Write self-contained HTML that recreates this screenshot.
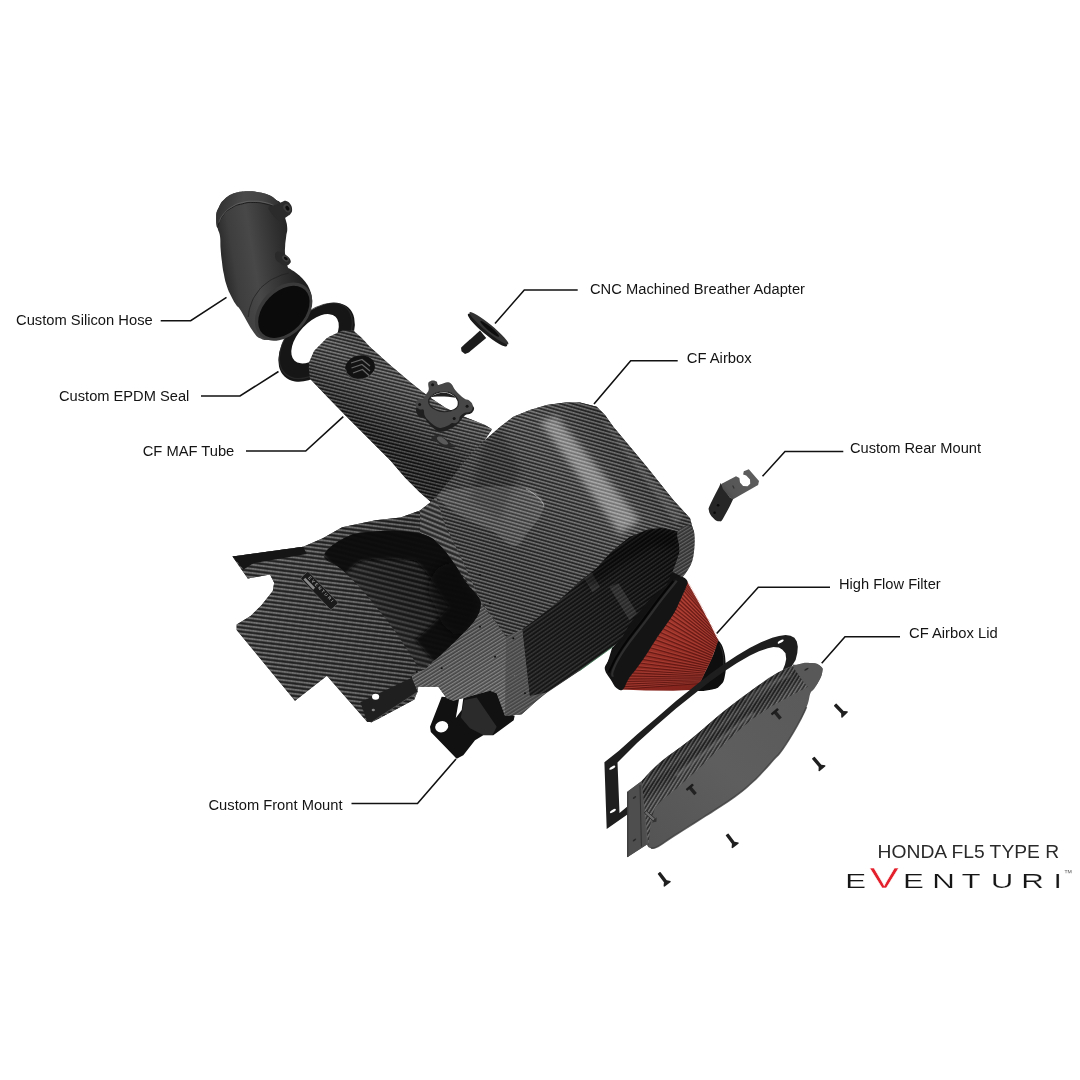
<!DOCTYPE html>
<html lang="en"><head><meta charset="utf-8"><title>Eventuri Honda FL5 Type R Intake - Exploded View</title>
<style>
html,body{margin:0;padding:0;background:#fff;}
body{width:1080px;height:1080px;overflow:hidden;position:relative;font-family:"Liberation Sans",sans-serif;}
svg{position:absolute;left:0;top:0;display:block;}
text{font-family:"Liberation Sans",sans-serif;}
#labels{opacity:0.999;will-change:opacity;}
</style></head><body>
<svg width="1080" height="1080" viewBox="0 0 1080 1080">
<defs>
<pattern id="cfa" width="2.4" height="3.3" patternUnits="userSpaceOnUse" patternTransform="rotate(14)"><rect width="2.4" height="1.39" fill="#fff" opacity="0.17"/><rect x="0" width="1.20" height="1.39" fill="#fff" opacity="0.102"/><rect y="1.39" width="2.4" height="0.40" fill="#000" opacity="0.261"/><rect y="1.78" width="2.4" height="1.19" fill="#000" opacity="0.58"/><rect y="2.97" width="2.4" height="0.33" fill="#000" opacity="0.261"/></pattern>
<pattern id="cfb" width="2.4" height="3.4" patternUnits="userSpaceOnUse" patternTransform="rotate(16)"><rect width="2.4" height="1.43" fill="#fff" opacity="0.17"/><rect x="0" width="1.20" height="1.43" fill="#fff" opacity="0.102"/><rect y="1.43" width="2.4" height="0.41" fill="#000" opacity="0.261"/><rect y="1.84" width="2.4" height="1.22" fill="#000" opacity="0.58"/><rect y="3.06" width="2.4" height="0.34" fill="#000" opacity="0.261"/></pattern>
<pattern id="cfc" width="2.4" height="3.0" patternUnits="userSpaceOnUse" patternTransform="rotate(-32)"><rect width="2.4" height="1.26" fill="#fff" opacity="0.14"/><rect x="0" width="1.20" height="1.26" fill="#fff" opacity="0.084"/><rect y="1.26" width="2.4" height="0.36" fill="#000" opacity="0.225"/><rect y="1.62" width="2.4" height="1.08" fill="#000" opacity="0.5"/><rect y="2.70" width="2.4" height="0.30" fill="#000" opacity="0.225"/></pattern>
<pattern id="cfd" width="2.6" height="4.1" patternUnits="userSpaceOnUse" patternTransform="rotate(7)"><rect width="2.6" height="1.72" fill="#fff" opacity="0.16"/><rect x="0" width="1.30" height="1.72" fill="#fff" opacity="0.096"/><rect y="1.72" width="2.6" height="0.49" fill="#000" opacity="0.252"/><rect y="2.21" width="2.6" height="1.48" fill="#000" opacity="0.56"/><rect y="3.69" width="2.6" height="0.41" fill="#000" opacity="0.252"/></pattern>
<pattern id="cfh" width="2.8" height="5.0" patternUnits="userSpaceOnUse" patternTransform="rotate(14)"><rect width="2.8" height="2.10" fill="#fff" opacity="0.07"/><rect x="0" width="1.40" height="2.10" fill="#fff" opacity="0.042"/><rect y="2.10" width="2.8" height="0.60" fill="#000" opacity="0.225"/><rect y="2.70" width="2.8" height="1.80" fill="#000" opacity="0.5"/><rect y="4.50" width="2.8" height="0.50" fill="#000" opacity="0.225"/></pattern>
<pattern id="cfg" width="2.8" height="4.6" patternUnits="userSpaceOnUse" patternTransform="rotate(22)"><rect width="2.8" height="1.93" fill="#fff" opacity="0.15"/><rect x="0" width="1.40" height="1.93" fill="#fff" opacity="0.090"/><rect y="1.93" width="2.8" height="0.55" fill="#000" opacity="0.243"/><rect y="2.48" width="2.8" height="1.66" fill="#000" opacity="0.54"/><rect y="4.14" width="2.8" height="0.46" fill="#000" opacity="0.243"/></pattern>
<pattern id="cfe" width="2.4" height="3.4" patternUnits="userSpaceOnUse" patternTransform="rotate(-35)"><rect width="2.4" height="1.43" fill="#fff" opacity="0.09"/><rect x="0" width="1.20" height="1.43" fill="#fff" opacity="0.054"/><rect y="1.43" width="2.4" height="0.41" fill="#000" opacity="0.225"/><rect y="1.84" width="2.4" height="1.22" fill="#000" opacity="0.5"/><rect y="3.06" width="2.4" height="0.34" fill="#000" opacity="0.225"/></pattern>
<pattern id="cff" width="2.4" height="3.2" patternUnits="userSpaceOnUse" patternTransform="rotate(-58)"><rect width="2.4" height="1.34" fill="#fff" opacity="0.15"/><rect x="0" width="1.20" height="1.34" fill="#fff" opacity="0.090"/><rect y="1.34" width="2.4" height="0.38" fill="#000" opacity="0.207"/><rect y="1.73" width="2.4" height="1.15" fill="#000" opacity="0.46"/><rect y="2.88" width="2.4" height="0.32" fill="#000" opacity="0.207"/></pattern>
<linearGradient id="gbox" gradientUnits="userSpaceOnUse" x1="300" y1="350" x2="700" y2="700"><stop offset="0" stop-color="#505050"/><stop offset="0.5" stop-color="#4a4a4a"/><stop offset="1" stop-color="#444"/></linearGradient>
<linearGradient id="gtube" gradientUnits="userSpaceOnUse" x1="382" y1="348" x2="345" y2="417"><stop offset="0" stop-color="#444"/><stop offset="0.25" stop-color="#5c5c5c"/><stop offset="0.55" stop-color="#4c4c4c"/><stop offset="0.85" stop-color="#323232"/><stop offset="1" stop-color="#232323"/></linearGradient>
<linearGradient id="gtop" gradientUnits="userSpaceOnUse" x1="500" y1="560" x2="650" y2="430"><stop offset="0" stop-color="#464646"/><stop offset="0.3" stop-color="#4e4e4e"/><stop offset="0.5" stop-color="#565656"/><stop offset="0.62" stop-color="#5c5c5c"/><stop offset="0.8" stop-color="#484848"/><stop offset="1" stop-color="#3e3e3e"/></linearGradient>
<clipPath id="cliptop"><path d="M484.0,441.0 L500.0,427.0 L513.3,416.7 L530.0,410.0 L546.7,405.0 L565.0,402.5 L580.0,402.5 L596.7,406.7 L605.0,415.0 L613.3,426.7 L646.7,466.7 L673.3,500.0 L690.0,518.3 L694.0,533.3 L690.0,556.7 L680.0,576.7 L672.2,574.1 L679.6,551.9 L677.8,531.5 L663.0,527.8 L648.1,529.6 L629.6,537.0 L611.1,551.9 L596.3,568.5 L579.6,581.5 L555.6,603.7 L537.0,618.5 L522.2,629.6 L506.0,637.0 L480.0,600.0 L462.0,560.0 L445.0,525.0 L436.0,497.0 L452.0,478.0 L470.0,455.0Z"/></clipPath>
<filter id="blur3" x="-30%" y="-30%" width="160%" height="160%"><feGaussianBlur stdDeviation="3"/></filter>
<filter id="blur2" x="-30%" y="-30%" width="160%" height="160%"><feGaussianBlur stdDeviation="1.6"/></filter>
<linearGradient id="gfront" gradientUnits="userSpaceOnUse" x1="430" y1="520" x2="520" y2="700"><stop offset="0" stop-color="#4e4e4e"/><stop offset="0.5" stop-color="#5e5e5e"/><stop offset="1" stop-color="#787878"/></linearGradient>
<linearGradient id="gscoop" gradientUnits="userSpaceOnUse" x1="250" y1="600" x2="430" y2="620"><stop offset="0" stop-color="#4a4a4a"/><stop offset="0.5" stop-color="#444"/><stop offset="1" stop-color="#3a3a3a"/></linearGradient>
<linearGradient id="ginter" gradientUnits="userSpaceOnUse" x1="465" y1="565" x2="372" y2="645"><stop offset="0" stop-color="#181818"/><stop offset="0.55" stop-color="#262626"/><stop offset="0.82" stop-color="#343434"/><stop offset="1" stop-color="#424242"/></linearGradient>
<clipPath id="clipinter"><path d="M324.1,555.6 C325.2,549.3 336.3,541.9 346.3,537.0 C356.3,532.2 362.6,532.6 374.1,531.5 C385.6,530.4 393.3,530.7 403.7,531.5 C414.1,532.2 418.5,532.2 425.9,535.2 C433.3,538.1 435.2,540.7 440.7,546.3 C446.3,551.9 448.5,555.6 453.7,563.0 C458.9,570.4 461.9,576.7 466.7,583.3 C471.5,590.0 475.0,591.9 477.8,596.3 C480.6,600.7 480.9,601.1 480.6,605.6 C480.2,610.0 479.4,613.0 475.9,618.5 C472.4,624.1 468.5,627.4 463.0,633.3 C457.4,639.3 454.1,642.6 448.1,648.1 C442.2,653.7 438.9,657.2 433.3,661.1 C427.8,665.0 424.8,668.7 420.4,667.6 C415.9,666.5 415.9,662.4 411.1,655.6 C406.3,648.7 402.6,642.2 396.3,633.3 C390.0,624.4 386.7,620.0 379.6,611.1 C372.6,602.2 368.9,597.4 361.1,588.9 C353.3,580.4 348.1,575.2 340.7,568.5 C333.3,561.9 323.0,561.9 324.1,555.6Z"/></clipPath>
<linearGradient id="gli" gradientUnits="userSpaceOnUse" x1="530" y1="690" x2="670" y2="540"><stop offset="0" stop-color="#222"/><stop offset="0.5" stop-color="#1a1a1a"/><stop offset="1" stop-color="#0f0f0f"/></linearGradient>
<clipPath id="clipli"><path d="M522.2,629.6 L537.0,618.5 L555.6,603.7 L579.6,581.5 L596.3,568.5 L611.1,551.9 L629.6,537.0 L648.1,529.6 L663.0,527.8 L677.8,531.5 L679.6,551.9 L672.2,574.1 L666.7,587.0 L648.1,603.7 L629.6,625.9 L622.0,640.0 L613.0,646.3 L579.6,670.4 L546.3,692.6 L529.6,696.3Z"/></clipPath>
<linearGradient id="ghose" gradientUnits="userSpaceOnUse" x1="215" y1="262" x2="300" y2="248"><stop offset="0" stop-color="#202020"/><stop offset="0.22" stop-color="#3e3e3e"/><stop offset="0.45" stop-color="#484848"/><stop offset="0.75" stop-color="#303030"/><stop offset="1" stop-color="#1e1e1e"/></linearGradient>
<linearGradient id="gcollar" gradientUnits="userSpaceOnUse" x1="216" y1="200" x2="280" y2="215"><stop offset="0" stop-color="#2e2e2e"/><stop offset="0.4" stop-color="#4a4a4a"/><stop offset="0.7" stop-color="#444"/><stop offset="1" stop-color="#2c2c2c"/></linearGradient>
<linearGradient id="grm" gradientUnits="userSpaceOnUse" x1="720" y1="500" x2="755" y2="470"><stop offset="0" stop-color="#3e3e3e"/><stop offset="0.3" stop-color="#555"/><stop offset="1" stop-color="#5e5e5e"/></linearGradient>
<linearGradient id="gred" gradientUnits="userSpaceOnUse" x1="665" y1="610" x2="700" y2="700"><stop offset="0" stop-color="#a8392f"/><stop offset="0.45" stop-color="#962e25"/><stop offset="1" stop-color="#7a1f19"/></linearGradient>
<clipPath id="clipred"><path d="M685.8,579.4 L698.3,601.7 L709.4,622.5 L718.1,640.6 L715.3,648.9 L711.1,660.0 L705.6,671.1 L698.6,685.7 L695.6,689.7 L673.3,690.8 L645.6,690.6 L621.2,689.4 L627.5,679.4 L635.8,668.3 L645.6,654.4 L655.3,639.2 L665.0,625.3 L673.3,612.8 L678.9,601.7 L684.4,590.6Z"/></clipPath>
<linearGradient id="glid" gradientUnits="userSpaceOnUse" x1="650" y1="850" x2="800" y2="690"><stop offset="0" stop-color="#545454"/><stop offset="0.5" stop-color="#5e5e5e"/><stop offset="1" stop-color="#5a5a5a"/></linearGradient>
<linearGradient id="gslope" gradientUnits="userSpaceOnUse" x1="700" y1="725" x2="718" y2="748"><stop offset="0" stop-color="#1c1c1c"/><stop offset="0.3" stop-color="#333"/><stop offset="0.45" stop-color="#4a4a4a"/><stop offset="0.6" stop-color="#303030"/><stop offset="0.85" stop-color="#3e3e3e"/><stop offset="1" stop-color="#525252"/></linearGradient>
<clipPath id="clipslope"><path d="M641.7,780.9 L660.0,762.4 L691.5,738.7 L723.0,712.0 L754.5,688.3 L778.1,672.6 L793.0,666.0 L801.7,678.9 L808.0,686.8 L796.0,693.0 L772.0,706.0 L753.0,718.5 L737.4,731.5 L719.6,748.5 L697.4,770.0 L676.0,789.0 L662.0,800.0 L655.0,808.0 L651.0,820.0 L648.4,845.9Z"/></clipPath>
<filter id="blur1" x="-30%" y="-30%" width="160%" height="160%"><feGaussianBlur stdDeviation="0.9"/></filter>
</defs>
<rect width="1080" height="1080" fill="#fff"/>
<polyline points="160.7,320.7 190.7,320.7 226.5,297.3" stroke="#111" stroke-width="1.6" fill="none" stroke-linejoin="miter"/>
<polyline points="201.0,396.0 240.0,396.0 278.5,371.5" stroke="#111" stroke-width="1.6" fill="none" stroke-linejoin="miter"/>
<polyline points="246.0,451.0 305.7,451.0 343.3,416.7" stroke="#111" stroke-width="1.6" fill="none" stroke-linejoin="miter"/>
<polyline points="577.7,290.0 524.3,290.0 495.0,323.5" stroke="#111" stroke-width="1.6" fill="none" stroke-linejoin="miter"/>
<polyline points="677.7,360.7 630.7,360.7 594.0,404.0" stroke="#111" stroke-width="1.6" fill="none" stroke-linejoin="miter"/>
<polyline points="843.3,451.5 785.0,451.5 762.5,476.3" stroke="#111" stroke-width="1.6" fill="none" stroke-linejoin="miter"/>
<polyline points="830.0,587.3 758.3,587.3 716.7,633.5" stroke="#111" stroke-width="1.6" fill="none" stroke-linejoin="miter"/>
<polyline points="900.0,636.7 845.0,636.7 821.7,663.3" stroke="#111" stroke-width="1.6" fill="none" stroke-linejoin="miter"/>
<polyline points="351.5,803.5 417.5,803.5 456.0,759.0" stroke="#111" stroke-width="1.6" fill="none" stroke-linejoin="miter"/>
<g id="labels">
<text x="16.0" y="325.2" font-size="14.7" fill="#141414" text-anchor="start" textLength="136.7" lengthAdjust="spacingAndGlyphs" >Custom Silicon Hose</text>
<text x="59.0" y="400.7" font-size="14.7" fill="#141414" text-anchor="start" textLength="130.3" lengthAdjust="spacingAndGlyphs" >Custom EPDM Seal</text>
<text x="142.7" y="455.7" font-size="14.7" fill="#141414" text-anchor="start" textLength="91.6" lengthAdjust="spacingAndGlyphs" >CF MAF Tube</text>
<text x="590.0" y="294.0" font-size="14.7" fill="#141414" text-anchor="start" textLength="215.0" lengthAdjust="spacingAndGlyphs" >CNC Machined Breather Adapter</text>
<text x="686.7" y="363.3" font-size="14.7" fill="#141414" text-anchor="start" textLength="65.0" lengthAdjust="spacingAndGlyphs" >CF Airbox</text>
<text x="850.0" y="453.3" font-size="14.7" fill="#141414" text-anchor="start" textLength="131.0" lengthAdjust="spacingAndGlyphs" >Custom Rear Mount</text>
<text x="839.0" y="589.0" font-size="14.7" fill="#141414" text-anchor="start" textLength="101.7" lengthAdjust="spacingAndGlyphs" >High Flow Filter</text>
<text x="909.0" y="638.3" font-size="14.7" fill="#141414" text-anchor="start" textLength="88.7" lengthAdjust="spacingAndGlyphs" >CF Airbox Lid</text>
<text x="208.5" y="810.0" font-size="14.7" fill="#141414" text-anchor="start" textLength="134.0" lengthAdjust="spacingAndGlyphs" >Custom Front Mount</text>
<text x="877.6" y="858.3" font-size="19.2" fill="#2a2a2a" text-anchor="start" textLength="181.6" lengthAdjust="spacingAndGlyphs" >HONDA FL5 TYPE R</text>
<g transform="translate(0,887.7) scale(1.52,1)"><text id="logo" x="556.05 572.11 594.08 613.26 632.63 651.81 671.91 692.93" y="0" font-size="20.6" fill="#161616" stroke="#fff" stroke-width="0.2" paint-order="fill stroke">E<tspan fill="#e3202b" font-size="29" stroke-width="0.4">V</tspan>ENTURI</text></g>
<text x="1063.8" y="875.6" font-size="8.5" fill="#6a6a6a">™</text>
</g>
<path d="M441.7,696.7 L430.0,726.7 L430.8,732.0 L456.7,758.7 L463.3,755.3 L475.0,740.3 L483.3,735.3 L493.3,735.3 L513.7,720.3 L514.7,715.8 L506.7,713.3 L498.3,691.7 L483.3,690.0 L463.3,698.3 L461.7,710.0 L455.8,718.0 L459.2,698.3Z" fill="#111" />
<path d="M464.2,700.0 L476.7,697.5 L496.7,726.7 L492.5,735.0 L483.3,735.0 L470.0,728.3 L460.8,717.5Z" fill="#2b2b2b" />
<ellipse cx="441.7" cy="726.7" rx="6.6" ry="5.6" fill="#fff" transform="rotate(-20 441.7 726.7)"/>
<g transform="rotate(-47 316.6 342.2)">
<path d="M316.6,342.2 m-47,0 a47,28.5 0 1,0 94,0 a47,28.5 0 1,0 -94,0 Z M318.1,338.7 m-30,0 a30,16.5 0 1,1 60,0 a30,16.5 0 1,1 -60,0 Z" fill="#161616" fill-rule="evenodd"/>
<ellipse cx="317.1" cy="340.7" rx="45" ry="27" fill="none" stroke="#2b2b2b" stroke-width="1.2" opacity="0.8"/>
</g>
<path d="M370.0,347.0 L390.0,365.0 L410.0,382.0 L420.0,390.0 L430.0,397.5 L445.0,407.5 L460.0,415.0 L472.5,420.0 L485.0,425.0 L492.0,429.2 L484.0,441.0 L500.0,427.0 L513.3,416.7 L530.0,410.0 L546.7,405.0 L565.0,402.5 L580.0,402.5 L596.7,406.7 L605.0,415.0 L613.3,426.7 L646.7,466.7 L673.3,500.0 L690.0,518.3 L694.0,533.3 L690.0,556.7 L680.0,576.7 L650.0,612.0 L630.0,634.0 L613.0,646.5 L580.0,670.5 L546.5,693.0 L536.7,700.8 L521.7,714.2 L505.0,715.8 L496.7,693.3 L490.0,690.8 L453.3,700.8 L446.7,698.3 L438.3,686.7 L418.3,686.7 L416.7,693.3 L414.4,699.4 L375.6,720.3 L367.2,721.7 L326.9,675.8 L295.0,700.8 L236.7,630.0 L236.7,624.4 L250.6,616.1 L261.7,605.0 L272.8,591.1 L274.2,582.8 L270.0,574.4 L247.8,578.6 L232.5,556.4 L303.3,546.7 L322.8,538.3 L342.2,527.2 L375.6,520.3 L400.6,517.5 L420.0,510.6 L431.0,502.0 L420.0,492.5 L405.0,477.5 L390.0,460.0 L370.0,440.0 L345.0,415.0 L327.5,397.0 L310.0,378.8Z" fill="url(#gbox)" />
<path d="M308.8,368.0 C309.6,364.5 307.5,365.2 311.2,357.5 C314.9,349.8 312.1,352.8 320.0,345.0 C327.9,337.2 325.0,338.7 335.0,334.0 C345.0,329.3 342.7,330.9 350.0,330.8 C357.3,330.7 350.3,328.4 357.0,333.8 C363.7,339.2 365.7,342.6 370.0,347.0 L390.0,365.0 L410.0,382.0 L420.0,390.0 L430.0,397.5 L445.0,407.5 L460.0,415.0 L472.5,420.0 L485.0,425.0 L492.0,429.2 L484.0,441.0 L470.0,455.0 L452.0,478.0 L436.0,497.0 L431.0,502.0 L420.0,492.5 L405.0,477.5 L390.0,460.0 L370.0,440.0 L345.0,415.0 L327.5,397.0 L310.0,378.8Z" fill="url(#gtube)" />
<path d="M308.8,368.0 C309.6,364.5 307.5,365.2 311.2,357.5 C314.9,349.8 312.1,352.8 320.0,345.0 C327.9,337.2 325.0,338.7 335.0,334.0 C345.0,329.3 342.7,330.9 350.0,330.8 C357.3,330.7 350.3,328.4 357.0,333.8 C363.7,339.2 365.7,342.6 370.0,347.0 L390.0,365.0 L410.0,382.0 L420.0,390.0 L430.0,397.5 L445.0,407.5 L460.0,415.0 L472.5,420.0 L485.0,425.0 L492.0,429.2 L484.0,441.0 L470.0,455.0 L452.0,478.0 L436.0,497.0 L431.0,502.0 L420.0,492.5 L405.0,477.5 L390.0,460.0 L370.0,440.0 L345.0,415.0 L327.5,397.0 L310.0,378.8Z" fill="url(#cfa)" opacity="1.00" />
<ellipse cx="360" cy="367.5" rx="15" ry="12" fill="#121212" transform="rotate(-12 360 367.5)"/>
<path d="M351,363 L362,359.5 L370,366 M351.5,368 L362,364.5 L370,371 M353,373 L362.5,369.5 L369,375.5" stroke="#7a7a7a" stroke-width="1.3" fill="none" opacity="0.8"/>
<path d="M345.5,369 A15,12 -12 0 0 374,371" stroke="#8a8a8a" stroke-width="1" fill="none" opacity="0.5"/>
<path d="M484.0,441.0 L500.0,427.0 L513.3,416.7 L530.0,410.0 L546.7,405.0 L565.0,402.5 L580.0,402.5 L596.7,406.7 L605.0,415.0 L613.3,426.7 L646.7,466.7 L673.3,500.0 L690.0,518.3 L694.0,533.3 L690.0,556.7 L680.0,576.7 L672.2,574.1 L679.6,551.9 L677.8,531.5 L663.0,527.8 L648.1,529.6 L629.6,537.0 L611.1,551.9 L596.3,568.5 L579.6,581.5 L555.6,603.7 L537.0,618.5 L522.2,629.6 L506.0,637.0 L480.0,600.0 L462.0,560.0 L445.0,525.0 L436.0,497.0 L452.0,478.0 L470.0,455.0Z" fill="url(#gtop)" />
<path d="M484.0,441.0 L500.0,427.0 L513.3,416.7 L530.0,410.0 L546.7,405.0 L565.0,402.5 L580.0,402.5 L596.7,406.7 L605.0,415.0 L613.3,426.7 L646.7,466.7 L673.3,500.0 L690.0,518.3 L694.0,533.3 L690.0,556.7 L680.0,576.7 L672.2,574.1 L679.6,551.9 L677.8,531.5 L663.0,527.8 L648.1,529.6 L629.6,537.0 L611.1,551.9 L596.3,568.5 L579.6,581.5 L555.6,603.7 L537.0,618.5 L522.2,629.6 L506.0,637.0 L480.0,600.0 L462.0,560.0 L445.0,525.0 L436.0,497.0 L452.0,478.0 L470.0,455.0Z" fill="url(#cfb)" opacity="1.00" />
<g clip-path="url(#cliptop)">
<path d="M540,422 L556,416 L640,520 L620,534 Z" fill="#fff" opacity="0.34" filter="url(#blur3)"/>
<path d="M600,418 L608,424 L684,516 L676,524 Z" fill="#fff" opacity="0.10" filter="url(#blur2)"/>
<path d="M484,441 L500,427 L520,470 L500,520 L470,500 Z" fill="#000" opacity="0.18" filter="url(#blur3)"/>
</g>
<path d="M431.0,502.0 L436.0,497.0 L445.0,525.0 L462.0,560.0 L480.0,600.0 L506.0,637.0 L522.2,629.6 L529.6,696.3 L521.7,714.2 L505.0,715.8 L496.7,693.3 L490.0,690.8 L453.3,700.8 L446.7,698.3 L438.3,686.7 L418.3,686.7 L416.7,693.3 L414.4,699.4 L411.7,674.4 L425.6,668.9 L442.2,652.2 L456.1,635.6 L470.0,618.9 L478.3,599.4 L464.4,577.2 L442.2,549.4 L420.0,532.8 L420.0,510.6Z" fill="url(#gfront)" />
<path d="M431.0,502.0 L436.0,497.0 L445.0,525.0 L462.0,560.0 L480.0,600.0 L506.0,637.0 L522.2,629.6 L529.6,696.3 L521.7,714.2 L505.0,715.8 L496.7,693.3 L490.0,690.8 L453.3,700.8 L446.7,698.3 L438.3,686.7 L418.3,686.7 L416.7,693.3 L414.4,699.4 L411.7,674.4 L425.6,668.9 L442.2,652.2 L456.1,635.6 L470.0,618.9 L478.3,599.4 L464.4,577.2 L442.2,549.4 L420.0,532.8 L420.0,510.6Z" fill="url(#cfc)" opacity="0.90" />
<path d="M420.0,510.6 L431.0,502.0 L436.0,497.0 L445.0,525.0 L462.0,560.0 L480.0,600.0 L500.0,628.0 L478.3,599.4 L464.4,577.2 L442.2,549.4 L420.0,532.8Z" fill="#505050" />
<path d="M420.0,510.6 L431.0,502.0 L436.0,497.0 L445.0,525.0 L462.0,560.0 L480.0,600.0 L500.0,628.0 L478.3,599.4 L464.4,577.2 L442.2,549.4 L420.0,532.8Z" fill="url(#cfg)" opacity="1.00" />
<path d="M232.5,556.4 L303.3,546.7 L322.8,538.3 L342.2,527.2 L375.6,520.3 L400.6,517.5 L420.0,510.6 L420.0,532.8 L442.2,549.4 L464.4,577.2 L478.3,599.4 L470.0,618.9 L456.1,635.6 L442.2,652.2 L425.6,668.9 L411.7,674.4 L414.4,699.4 L375.6,720.3 L367.2,721.7 L326.9,675.8 L295.0,700.8 L236.7,630.0 L236.7,624.4 L250.6,616.1 L261.7,605.0 L272.8,591.1 L274.2,582.8 L270.0,574.4 L247.8,578.6Z" fill="url(#gscoop)" />
<path d="M232.5,556.4 L303.3,546.7 L322.8,538.3 L342.2,527.2 L375.6,520.3 L400.6,517.5 L420.0,510.6 L420.0,532.8 L442.2,549.4 L464.4,577.2 L478.3,599.4 L470.0,618.9 L456.1,635.6 L442.2,652.2 L425.6,668.9 L411.7,674.4 L414.4,699.4 L375.6,720.3 L367.2,721.7 L326.9,675.8 L295.0,700.8 L236.7,630.0 L236.7,624.4 L250.6,616.1 L261.7,605.0 L272.8,591.1 L274.2,582.8 L270.0,574.4 L247.8,578.6Z" fill="url(#cfd)" opacity="1.00" />
<path d="M324.1,555.6 C325.2,549.3 336.3,541.9 346.3,537.0 C356.3,532.2 362.6,532.6 374.1,531.5 C385.6,530.4 393.3,530.7 403.7,531.5 C414.1,532.2 418.5,532.2 425.9,535.2 C433.3,538.1 435.2,540.7 440.7,546.3 C446.3,551.9 448.5,555.6 453.7,563.0 C458.9,570.4 461.9,576.7 466.7,583.3 C471.5,590.0 475.0,591.9 477.8,596.3 C480.6,600.7 480.9,601.1 480.6,605.6 C480.2,610.0 479.4,613.0 475.9,618.5 C472.4,624.1 468.5,627.4 463.0,633.3 C457.4,639.3 454.1,642.6 448.1,648.1 C442.2,653.7 438.9,657.2 433.3,661.1 C427.8,665.0 424.8,668.7 420.4,667.6 C415.9,666.5 415.9,662.4 411.1,655.6 C406.3,648.7 402.6,642.2 396.3,633.3 C390.0,624.4 386.7,620.0 379.6,611.1 C372.6,602.2 368.9,597.4 361.1,588.9 C353.3,580.4 348.1,575.2 340.7,568.5 C333.3,561.9 323.0,561.9 324.1,555.6Z" fill="url(#ginter)" />
<path d="M324.1,555.6 C325.2,549.3 336.3,541.9 346.3,537.0 C356.3,532.2 362.6,532.6 374.1,531.5 C385.6,530.4 393.3,530.7 403.7,531.5 C414.1,532.2 418.5,532.2 425.9,535.2 C433.3,538.1 435.2,540.7 440.7,546.3 C446.3,551.9 448.5,555.6 453.7,563.0 C458.9,570.4 461.9,576.7 466.7,583.3 C471.5,590.0 475.0,591.9 477.8,596.3 C480.6,600.7 480.9,601.1 480.6,605.6 C480.2,610.0 479.4,613.0 475.9,618.5 C472.4,624.1 468.5,627.4 463.0,633.3 C457.4,639.3 454.1,642.6 448.1,648.1 C442.2,653.7 438.9,657.2 433.3,661.1 C427.8,665.0 424.8,668.7 420.4,667.6 C415.9,666.5 415.9,662.4 411.1,655.6 C406.3,648.7 402.6,642.2 396.3,633.3 C390.0,624.4 386.7,620.0 379.6,611.1 C372.6,602.2 368.9,597.4 361.1,588.9 C353.3,580.4 348.1,575.2 340.7,568.5 C333.3,561.9 323.0,561.9 324.1,555.6Z" fill="url(#cfh)" opacity="0.95" />
<g clip-path="url(#clipinter)">
<path d="M324.1,555.6 C329.3,551.2 334.6,542.7 346.3,537.0 C358.0,531.4 360.7,532.8 374.1,531.5 C387.5,530.2 391.6,530.6 403.7,531.5 C415.8,532.3 417.3,531.7 425.9,535.2 C434.6,538.6 434.3,539.8 440.7,546.3 C447.2,552.8 447.7,554.3 453.7,563.0 C459.8,571.6 461.0,575.6 466.7,583.3 C472.3,591.1 474.5,591.1 477.8,596.3 C481.0,601.5 481.0,600.4 480.6,605.6 C480.1,610.7 480.0,612.0 475.9,618.5 C471.8,625.0 469.4,626.4 463.0,633.3 C456.5,640.2 455.1,641.7 448.1,648.1 C441.2,654.6 436.8,658.1 433.3,661.1" stroke="#0a0a0a" stroke-width="56" fill="none" opacity="0.92" stroke-linejoin="round" filter="url(#blur2)"/>
<path d="M429.6,581.5 C434.1,568.6 443.8,562.5 453.7,563.0 C463.6,563.5 460.2,574.4 466.7,583.3 C473.1,592.2 474.1,590.4 477.8,596.3 C481.5,602.2 481.0,599.6 480.6,605.6 C480.1,611.5 480.6,611.1 475.9,618.5 C471.2,625.9 470.4,630.4 463.0,633.3 C455.6,636.3 455.1,635.6 448.1,629.6 C441.2,623.7 442.0,624.0 437.0,611.1 C432.1,598.3 425.2,594.3 429.6,581.5Z" fill="#0a0a0a" opacity="0.6" filter="url(#blur3)"/>
</g>
<path d="M232.5,556.4 L303.3,546.7 L306.7,553.9 L253.3,563.3 L243.6,569.4Z" fill="#151515" />
<path d="M360.3,702.2 L411.7,677.8 L417.8,691.7 L371.4,722.2 L367.2,721.7Z" fill="#1f1f1f" />
<path d="M371.4,722.2 L417.8,691.7" stroke="#4a4a4a" stroke-width="1" fill="none"/>
<path d="M522.2,629.6 L537.0,618.5 L555.6,603.7 L579.6,581.5 L596.3,568.5 L611.1,551.9 L629.6,537.0 L648.1,529.6 L663.0,527.8 L677.8,531.5 L679.6,551.9 L672.2,574.1 L666.7,587.0 L648.1,603.7 L629.6,625.9 L622.0,640.0 L613.0,646.3 L579.6,670.4 L546.3,692.6 L529.6,696.3Z" fill="url(#gli)" />
<path d="M522.2,629.6 L537.0,618.5 L555.6,603.7 L579.6,581.5 L596.3,568.5 L611.1,551.9 L629.6,537.0 L648.1,529.6 L663.0,527.8 L677.8,531.5 L679.6,551.9 L672.2,574.1 L666.7,587.0 L648.1,603.7 L629.6,625.9 L622.0,640.0 L613.0,646.3 L579.6,670.4 L546.3,692.6 L529.6,696.3Z" fill="url(#cfe)" opacity="0.80" />
<g clip-path="url(#clipli)">
<path d="M581.5,574.1 L590.7,570.4 L600.0,587.0 L592.6,592.6Z" fill="#fff" opacity="0.10"/>
<path d="M609.3,587.0 L618.5,583.3 L637.0,613.0 L629.6,620.4Z" fill="#fff" opacity="0.10"/>
<path d="M677.8,531.5 L648.1,529.6 L611.1,551.9 L579.6,581.5 L592.6,587.0 L620.4,564.8 L651.9,546.3 L675.9,548.1Z" fill="#000" opacity="0.35" filter="url(#blur3)"/>
</g>
<path d="M579.6,670.7 L613.0,646.7" stroke="#3f7a55" stroke-width="1" fill="none" opacity="0.8"/>
<path d="M677.8,531.5 C680.4,526.7 689.4,523.0 692.6,527.8 C695.7,532.6 695.0,546.3 693.5,555.6 C692.0,564.8 688.3,569.6 685.2,574.1 C682.0,578.5 680.4,577.8 677.8,577.8 C675.2,577.8 671.9,579.3 672.2,574.1 C672.6,568.9 678.5,560.4 679.6,551.9 C680.7,543.3 675.2,536.3 677.8,531.5Z" fill="#484848" />
<path d="M677.8,531.5 C680.4,526.7 689.4,523.0 692.6,527.8 C695.7,532.6 695.0,546.3 693.5,555.6 C692.0,564.8 688.3,569.6 685.2,574.1 C682.0,578.5 680.4,577.8 677.8,577.8 C675.2,577.8 671.9,579.3 672.2,574.1 C672.6,568.9 678.5,560.4 679.6,551.9 C680.7,543.3 675.2,536.3 677.8,531.5Z" fill="url(#cfc)" opacity="0.80" />
<path d="M506.0,637.0 L522.2,629.6 L529.6,696.3 L546.3,692.6 L536.7,700.8 L521.7,714.2 L505.0,715.8Z" fill="#585858" />
<path d="M506.0,637.0 L522.2,629.6 L529.6,696.3 L546.3,692.6 L536.7,700.8 L521.7,714.2 L505.0,715.8Z" fill="url(#cfc)" opacity="0.60" />
<ellipse cx="375.6" cy="696.7" rx="3.6" ry="3" fill="#fff"/>
<ellipse cx="373.3" cy="710.0" rx="1.6" ry="1.3" fill="#888"/>
<g transform="translate(319.4,590.6) rotate(46)"><rect x="-22" y="-5.2" width="44" height="10.4" rx="1.5" fill="#1a1a1a" stroke="#6a6a6a" stroke-width="0.6"/><text x="0" y="-0.6" font-size="4.2" fill="#d0d0d0" text-anchor="middle" textLength="34" lengthAdjust="spacing">EVENTURI</text><rect x="-19" y="1.2" width="14" height="2.6" fill="#8a8a8a"/></g>
<path d="M440.0,493.0 C446.8,489.2 462.6,488.1 480.0,487.0 C497.4,485.9 515.4,485.9 527.0,487.5 C538.6,489.1 534.7,491.9 538.0,495.0 C541.3,498.1 542.9,499.0 543.5,503.0 C544.1,507.0 544.1,509.2 541.0,515.0 C537.9,520.8 533.4,525.8 528.0,532.0 C522.6,538.2 521.2,546.2 514.0,546.0 C506.8,545.8 500.8,536.0 492.0,531.0 C483.2,526.0 479.2,526.0 470.0,521.0 C460.8,516.0 452.0,511.6 446.0,506.0 C440.0,500.4 433.2,496.8 440.0,493.0Z" fill="#fff" opacity="0.11"/>
<path d="M526.0,488.9 C528.8,490.7 529.0,490.0 534.4,494.4 C539.9,498.9 539.3,498.1 542.2,502.2 C545.2,506.3 543.0,505.2 543.3,506.7" stroke="#fff" stroke-width="1" fill="none" opacity="0.45"/>
<circle cx="480.0" cy="575.0" r="1" fill="#111"/>
<circle cx="490.0" cy="603.3" r="1" fill="#111"/>
<circle cx="480.0" cy="626.7" r="1" fill="#111"/>
<circle cx="495.0" cy="656.7" r="1" fill="#111"/>
<circle cx="441.7" cy="668.3" r="1" fill="#111"/>
<circle cx="416.7" cy="671.7" r="1" fill="#111"/>
<circle cx="513.3" cy="638.3" r="1" fill="#111"/>
<circle cx="525.0" cy="693.3" r="1" fill="#111"/>
<path d="M416.7,407.0 C414.8,410.7 417.0,414.1 418.5,416.3 C420.0,418.5 421.7,416.3 424.1,418.1 C426.5,420.0 427.4,422.9 430.6,425.6 C433.7,428.2 435.6,431.1 439.8,431.6 C444.1,432.0 448.0,429.8 451.9,427.9 C455.7,425.9 456.7,424.4 459.3,421.9 C461.9,419.4 462.2,417.2 464.8,415.4 C467.4,413.5 470.7,414.6 472.2,412.6 C473.7,410.6 475.6,408.1 472.2,405.2 C468.9,402.2 464.4,399.3 455.6,397.8 C446.7,396.3 435.6,395.9 427.8,397.8 C420.0,399.6 418.5,403.3 416.7,407.0Z M430.6,407.0 C432.5,409.5 432.7,409.7 436.1,411.7 C439.6,413.6 439.3,414.0 443.5,414.4 C447.7,414.9 448.3,414.9 451.9,413.5 C455.4,412.2 454.9,411.8 456.7,409.4 C458.4,406.9 458.4,407.1 458.3,404.3 C458.3,401.4 458.5,401.3 456.5,398.7 C454.5,396.1 454.4,396.0 450.9,394.5 C447.5,393.1 447.5,393.2 443.5,393.1 C439.6,393.1 439.6,393.0 436.1,394.3 C432.7,395.5 432.5,395.6 430.6,397.8 C428.6,400.0 428.7,399.9 428.7,402.4 C428.7,404.9 428.6,404.6 430.6,407.0Z" fill="#1f1f1f" fill-rule="evenodd"/>
<path d="M428.2,383.9 C428.4,382.3 428.7,382.3 429.6,381.6 C430.6,380.9 431.5,380.4 432.9,380.4 C434.3,380.4 435.6,380.7 436.6,381.6 C437.6,382.5 436.9,384.3 438.0,384.8 C439.0,385.3 439.8,384.6 441.7,384.1 C443.5,383.6 445.3,382.4 447.2,382.3 C449.2,382.3 449.7,382.3 451.4,383.9 C453.1,385.5 453.1,387.5 455.6,390.4 C458.1,393.2 461.3,396.3 463.9,398.2 C466.5,400.2 466.9,399.0 468.5,400.1 C470.2,401.2 471.4,402.0 472.2,403.8 C473.0,405.6 473.0,407.2 472.4,408.9 C471.9,410.6 471.0,411.4 469.4,412.1 C467.9,412.9 466.7,411.9 464.8,412.8 C463.0,413.6 461.4,414.8 460.2,416.3 C459.0,417.8 459.7,419.1 458.8,420.5 C457.9,421.9 456.9,422.7 455.6,423.2 C454.2,423.7 453.3,422.5 451.9,423.0 C450.4,423.4 450.6,424.6 448.1,425.6 C445.7,426.5 443.1,428.3 439.8,427.9 C436.5,427.4 434.4,425.6 431.5,423.2 C428.5,420.9 426.6,419.0 425.0,416.3 C423.4,413.6 424.6,411.2 423.6,409.8 C422.6,408.4 421.4,410.0 419.9,409.4 C418.4,408.7 417.0,408.0 416.2,406.6 C415.4,405.2 415.5,403.8 415.9,402.4 C416.4,401.0 417.1,400.4 418.5,399.6 C420.0,398.9 421.5,400.0 423.1,398.7 C424.8,397.4 425.7,395.0 426.9,393.1 C428.0,391.3 428.4,391.3 428.7,389.4 C429.0,387.6 428.1,385.5 428.2,383.9Z M430.6,406.1 C432.5,408.3 432.7,408.3 436.1,409.8 C439.6,411.3 439.6,411.4 443.5,411.7 C447.5,411.9 447.5,411.7 450.9,410.7 C454.4,409.8 454.5,409.9 456.5,408.0 C458.5,406.0 458.3,406.0 458.3,403.3 C458.3,400.6 458.5,400.5 456.5,397.8 C454.5,395.1 454.4,394.8 450.9,393.1 C447.5,391.5 447.5,391.8 443.5,391.8 C439.6,391.8 439.6,391.8 436.1,393.1 C432.7,394.5 432.5,394.6 430.6,396.9 C428.6,399.1 428.7,399.0 428.7,401.5 C428.7,404.0 428.6,403.9 430.6,406.1Z" fill="#474747" fill-rule="evenodd"/>
<path d="M428.7,401.5 C428.7,399.0 428.6,399.1 430.6,396.9 C432.5,394.6 432.7,394.5 436.1,393.1 C439.6,391.8 439.6,391.8 443.5,391.8 C447.5,391.8 447.5,391.5 450.9,393.1 C454.4,394.8 454.5,395.1 456.5,397.8 C458.5,400.5 458.3,400.6 458.3,403.3 C458.3,406.0 458.5,406.0 456.5,408.0 C454.5,409.9 454.4,409.8 450.9,410.7 C447.5,411.7 447.5,411.9 443.5,411.7 C439.6,411.4 439.6,411.3 436.1,409.8 C432.7,408.3 432.5,408.3 430.6,406.1 C428.6,403.9 428.7,404.0 428.7,401.5Z" fill="none" stroke="#222" stroke-width="1.2"/>
<circle cx="432.6" cy="384.8" r="1.5" fill="#151515"/>
<circle cx="419.6" cy="404.4" r="1.5" fill="#151515"/>
<circle cx="467.1" cy="406.3" r="1.5" fill="#151515"/>
<circle cx="454.2" cy="418.6" r="1.5" fill="#151515"/>
<path d="M431.5,438.5 C431.5,437.0 434.6,435.0 437.0,434.8 C439.4,434.6 440.6,435.7 443.5,437.6 C446.5,439.4 449.4,442.2 451.9,444.1 C454.3,445.9 457.0,446.3 455.6,446.9 C454.1,447.4 448.1,447.8 444.4,446.9 C440.7,445.9 439.6,443.9 437.0,442.2 C434.4,440.6 431.5,440.0 431.5,438.5Z" fill="#2a2a2a" />
<path d="M437.0,437.6 C437.6,436.8 439.4,436.0 441.7,437.1 C443.9,438.2 447.6,441.7 448.1,443.1 C448.7,444.6 446.3,444.9 444.4,444.5 C442.6,444.2 440.4,442.7 438.9,441.3 C437.4,439.9 436.5,438.4 437.0,437.6Z" fill="#5a5a5a" />
<path d="M216.2,216.2 C216.5,211.6 216.7,211.6 218.8,207.5 C220.8,203.4 221.2,202.1 225.0,198.8 C228.8,195.4 229.8,194.9 235.0,193.1 C240.2,191.4 241.7,191.4 247.5,191.2 C253.3,191.1 254.8,191.5 260.0,192.5 C265.2,193.5 266.2,193.9 270.0,195.6 C273.8,197.4 273.8,198.1 276.2,200.0 C278.7,201.9 278.6,199.7 280.6,203.8 C282.7,207.8 283.5,212.0 285.0,217.5 C286.5,223.0 287.0,223.1 287.2,227.5 C287.5,231.9 286.7,232.2 286.2,236.2 C285.8,240.3 285.5,240.6 285.2,245.0 C285.0,249.4 284.7,250.0 285.2,255.0 C285.8,260.0 286.3,263.0 287.5,266.2 C288.7,269.5 287.9,267.2 290.2,269.0 C292.6,270.8 294.1,271.1 297.5,274.0 C300.9,276.9 302.1,277.7 305.0,281.5 C307.9,285.3 308.4,286.2 310.0,290.2 C311.6,294.3 311.6,294.7 311.9,298.8 C312.1,302.8 311.4,305.5 311.0,307.5 C310.6,309.5 311.1,305.5 310.0,307.5 C308.9,309.5 308.6,312.5 306.2,316.2 C303.9,320.0 303.2,320.5 300.0,323.8 C296.8,327.0 296.0,327.4 292.5,330.0 C289.0,332.6 289.1,332.8 285.0,335.0 C280.9,337.2 279.1,338.1 275.0,339.2 C270.9,340.4 270.7,340.1 267.5,340.0 C264.3,339.9 264.5,340.5 261.2,338.8 C258.0,337.0 258.4,338.9 253.8,332.5 C249.1,326.1 245.3,317.7 241.2,311.2 C237.2,304.8 238.6,308.5 236.2,305.0 C233.9,301.5 233.4,300.6 231.2,296.2 C229.1,291.9 228.6,291.5 226.9,286.2 C225.1,281.0 224.9,279.6 223.8,273.8 C222.6,267.9 222.6,267.1 221.9,261.2 C221.1,255.4 221.1,254.6 220.6,248.8 C220.2,242.9 220.7,241.2 220.0,236.2 C219.3,231.3 218.4,232.2 217.5,227.5 C216.6,222.8 216.0,220.9 216.2,216.2Z" fill="url(#ghose)" />
<path d="M216.2,216.2 C216.5,211.6 216.7,211.6 218.8,207.5 C220.8,203.4 221.2,202.1 225.0,198.8 C228.8,195.4 229.8,194.9 235.0,193.1 C240.2,191.4 241.7,191.4 247.5,191.2 C253.3,191.1 254.8,191.5 260.0,192.5 C265.2,193.5 266.2,193.9 270.0,195.6 C273.8,197.4 273.8,198.1 276.2,200.0 C278.7,201.9 280.9,202.1 280.6,203.8 C280.3,205.4 278.6,206.9 275.0,206.9 C271.4,206.9 270.0,204.8 265.0,203.8 C260.0,202.7 259.0,202.5 253.8,202.5 C248.5,202.5 247.8,202.4 242.5,203.8 C237.2,205.1 235.9,205.2 231.2,208.1 C226.6,211.0 225.7,211.7 222.5,216.2 C219.3,220.8 219.0,227.5 217.5,227.5 C216.0,227.5 216.0,220.9 216.2,216.2Z" fill="url(#gcollar)" />
<path d="M217.5,227.5 C218.8,224.5 218.8,221.4 222.5,216.2 C226.2,211.1 225.9,211.5 231.2,208.1 C236.6,204.8 236.5,205.2 242.5,203.8 C248.5,202.2 247.8,202.5 253.8,202.5 C259.8,202.5 259.3,202.6 265.0,203.8 C270.7,204.9 272.3,206.0 275.0,206.9" stroke="#1c1c1c" stroke-width="1" fill="none"/>
<path d="M218.8,222.5 C220.1,220.2 220.1,218.0 223.8,213.8 C227.4,209.5 227.5,209.5 232.5,206.5 C237.5,203.5 236.8,203.9 242.5,202.5 C248.2,201.1 247.8,201.2 253.8,201.2 C259.8,201.2 259.7,201.4 265.0,202.5 C270.3,203.6 271.4,204.6 273.8,205.4" stroke="#6a6a6a" stroke-width="0.9" fill="none" opacity="0.8"/>
<path d="M248.2,317.0 C248.9,313.8 248.4,311.4 250.8,305.0 C253.1,298.6 252.9,298.7 257.0,293.0 C261.1,287.3 260.5,287.8 266.0,283.5 C271.5,279.2 271.4,279.6 277.5,276.8 C283.6,273.9 285.9,274.0 289.0,273.0" stroke="#222" stroke-width="1" fill="none" opacity="0.8"/>
<path d="M268.8,206.9 C267.6,208.3 268.5,208.8 270.0,211.2 C271.5,213.7 272.7,215.4 275.0,217.5 C277.3,219.6 277.1,220.5 280.0,220.2 C282.9,220.0 285.0,217.8 287.5,216.2 C290.0,214.7 289.5,215.4 290.6,213.8 C291.7,212.1 292.2,211.7 292.1,209.4 C292.0,207.1 291.6,206.0 290.2,204.0 C288.9,202.0 288.2,201.5 286.2,201.0 C284.3,200.5 284.5,201.1 281.9,202.0 C279.2,202.9 278.1,203.9 275.0,205.0 C271.9,206.1 269.9,205.4 268.8,206.9Z" fill="#2b2b2b" />
<ellipse cx="287.2" cy="208.2" rx="3.3" ry="4.6" fill="#3c3c3c" transform="rotate(-35 287.2 208.2)"/>
<ellipse cx="287.4" cy="208.2" rx="1.7" ry="2.6" fill="#0c0c0c" transform="rotate(-35 287.4 208.2)"/>
<path d="M275.0,255.0 C275.1,253.1 275.4,252.5 276.9,251.9 C278.3,251.3 278.8,251.5 281.2,252.5 C283.7,253.5 285.3,254.4 287.5,256.2 C289.7,258.1 290.2,258.8 290.6,260.6 C291.1,262.4 290.7,262.8 289.4,264.0 C288.1,265.2 287.2,265.8 285.0,265.6 C282.8,265.4 282.0,264.4 280.0,263.1 C278.0,261.8 277.4,261.9 276.2,260.0 C275.1,258.1 274.9,256.9 275.0,255.0Z" fill="#2a2a2a" />
<ellipse cx="285.5" cy="258.5" rx="2.6" ry="3.8" fill="#3f3f3f" transform="rotate(-50 285.5 258.5)"/>
<ellipse cx="285.8" cy="258.5" rx="1.3" ry="2.2" fill="#0c0c0c" transform="rotate(-50 285.8 258.5)"/>
<g transform="rotate(-46 283.6 311.6)">
<ellipse cx="283.6" cy="311.6" rx="33.5" ry="23.5" fill="#3a3a3a"/>
<ellipse cx="283.6" cy="312.0" rx="30.5" ry="20.3" fill="#0b0b0b"/>
</g>
<path d="M480.0,330.6 L486.2,338.1 L468.8,352.5 L465.0,354.0 L461.5,351.2 L461.0,347.8 L463.8,345.0Z" fill="#1c1c1c" />
<g transform="rotate(39.5 488.5 328.8)">
<ellipse cx="488.5" cy="330.4" rx="25.2" ry="4.6" fill="#1a1a1a"/>
<ellipse cx="488.5" cy="328.1" rx="25" ry="3.8" fill="#333"/>
<ellipse cx="489.5" cy="328.1" rx="12" ry="2.0" fill="#0d0d0d"/>
</g>
<path d="M721.2,484.0 C719.5,482.1 721.2,482.8 719.4,486.2 C717.5,489.8 711.8,501.0 710.0,505.0 C708.2,509.0 708.6,508.3 708.8,510.0 C708.9,511.7 709.5,513.3 710.6,515.0 C711.8,516.7 714.2,519.2 715.6,520.2 C717.1,521.3 718.2,521.5 719.4,521.2 C720.6,521.0 720.5,522.7 722.8,519.0 C725.0,515.3 731.9,502.6 733.1,499.0 C734.3,495.4 732.0,500.0 730.0,497.5 C728.0,495.0 723.0,485.9 721.2,484.0Z" fill="#262626" />
<path d="M721.2,484.0 L736.0,476.2 L739.4,477.9 L740.0,482.5 L743.1,486.0 L747.5,486.2 L750.2,483.8 L750.0,479.4 L746.2,475.6 L743.1,474.4 L743.8,471.2 L748.8,469.2 L759.0,481.0 L758.1,485.0 L733.1,499.2 L729.8,497.5 L722.8,488.8Z" fill="url(#grm)" />
<circle cx="718.1" cy="505.2" r="1.3" fill="#0a0a0a"/>
<circle cx="714.6" cy="512.8" r="1.3" fill="#0a0a0a"/>
<rect x="732.8" y="485.4" width="1.2" height="3.2" fill="#333" transform="rotate(-28 733.4 487.0)"/>
<path d="M715.7,637.8 C716.5,635.8 716.7,638.0 718.5,640.6 C720.3,643.1 721.7,643.7 723.3,648.9 C725.0,654.1 725.2,656.3 725.6,662.8 C725.9,669.3 725.9,671.5 724.7,676.7 C723.6,681.9 723.5,682.0 720.6,685.0 C717.6,688.0 718.1,688.3 712.2,689.4 C706.4,690.5 698.1,692.1 695.6,689.7 C693.0,687.4 697.9,685.7 701.1,679.4 C704.4,673.2 706.2,669.9 709.4,662.8 C712.7,655.6 713.5,654.7 715.0,648.9 C716.5,643.1 714.9,639.7 715.7,637.8Z" fill="#0e0e0e" />
<path d="M719.9,644.7 C720.9,648.0 721.8,647.5 723.1,654.4 C724.3,661.4 723.4,661.9 723.6,665.6" stroke="#3a3a3a" stroke-width="1" fill="none" opacity="0.7"/>
<path d="M685.8,579.4 L698.3,601.7 L709.4,622.5 L718.1,640.6 L715.3,648.9 L711.1,660.0 L705.6,671.1 L698.6,685.7 L695.6,689.7 L673.3,690.8 L645.6,690.6 L621.2,689.4 L627.5,679.4 L635.8,668.3 L645.6,654.4 L655.3,639.2 L665.0,625.3 L673.3,612.8 L678.9,601.7 L684.4,590.6Z" fill="url(#gred)" />
<path d="M685.8,582.2 L755.3,669.3 M685.5,584.4 L755.2,669.5 M685.1,586.6 L755.2,669.8 M684.7,588.8 L755.2,670.0 M684.1,591.2 L755.1,670.2 M682.6,594.2 L755.0,670.5 M681.2,597.1 L754.8,670.8 M679.7,600.0 L754.7,671.1 M678.2,603.0 L754.5,671.4 M676.8,605.9 L754.4,671.7 M675.3,608.9 L754.2,672.0 M673.8,611.8 L754.1,672.3 M671.9,615.0 L753.9,672.6 M669.7,618.3 L753.7,672.9 M667.5,621.6 L753.4,673.3 M665.2,624.9 L753.2,673.6 M662.7,628.5 L753.0,674.0 M660.1,632.2 L752.7,674.3 M657.6,635.9 L752.5,674.7 M655.0,639.6 L752.2,675.1 M652.4,643.7 L751.9,675.5 M649.8,647.7 L751.7,675.9 M647.3,651.7 L751.4,676.3 M644.7,655.7 L751.2,676.7 M642.1,659.3 L750.9,677.0 M639.6,663.0 L750.7,677.4 M637.0,666.7 L750.4,677.8 M634.6,670.0 L750.2,678.1 M632.4,672.9 L749.9,678.4 M630.2,675.8 L749.7,678.7 M628.0,678.8 L749.5,679.0 M626.4,681.4 L749.3,679.2 M624.9,684.0 L749.2,679.5 M623.4,686.6 L749.0,679.8 M621.9,689.2 L748.9,680.0" stroke="#4a0f0b" stroke-width="1.2" fill="none" opacity="0.62" clip-path="url(#clipred)"/>
<path d="M685.8,582.2 L755.3,669.3 M685.5,584.4 L755.2,669.5 M685.1,586.6 L755.2,669.8 M684.7,588.8 L755.2,670.0 M684.1,591.2 L755.1,670.2 M682.6,594.2 L755.0,670.5 M681.2,597.1 L754.8,670.8 M679.7,600.0 L754.7,671.1 M678.2,603.0 L754.5,671.4 M676.8,605.9 L754.4,671.7 M675.3,608.9 L754.2,672.0 M673.8,611.8 L754.1,672.3 M671.9,615.0 L753.9,672.6 M669.7,618.3 L753.7,672.9 M667.5,621.6 L753.4,673.3 M665.2,624.9 L753.2,673.6 M662.7,628.5 L753.0,674.0 M660.1,632.2 L752.7,674.3 M657.6,635.9 L752.5,674.7 M655.0,639.6 L752.2,675.1 M652.4,643.7 L751.9,675.5 M649.8,647.7 L751.7,675.9 M647.3,651.7 L751.4,676.3 M644.7,655.7 L751.2,676.7 M642.1,659.3 L750.9,677.0 M639.6,663.0 L750.7,677.4 M637.0,666.7 L750.4,677.8 M634.6,670.0 L750.2,678.1 M632.4,672.9 L749.9,678.4 M630.2,675.8 L749.7,678.7 M628.0,678.8 L749.5,679.0 M626.4,681.4 L749.3,679.2 M624.9,684.0 L749.2,679.5 M623.4,686.6 L749.0,679.8 M621.9,689.2 L748.9,680.0" stroke="#c4584c" stroke-width="0.7" fill="none" opacity="0.5" clip-path="url(#clipred)" transform="translate(0.9,-1)"/>
<path d="M612.0,648.0 L622.0,638.0 L629.6,624.0 L648.1,601.0 L666.7,585.0 L672.2,572.0 L681.0,576.0 L660.0,598.0 L632.0,634.0 L609.0,662.0 L606.0,668.0Z" fill="#121212" />
<path d="M680.3,576.4 C683.7,576.2 686.1,578.6 687.2,580.8 C688.3,583.1 687.2,583.9 685.8,587.8 C684.4,591.7 682.6,595.3 680.3,600.3 C677.9,605.3 677.1,607.8 674.2,612.8 C671.3,617.8 669.4,620.0 665.8,625.3 C662.2,630.6 660.0,633.3 656.1,639.2 C652.2,645.0 650.3,648.6 646.4,654.4 C642.5,660.3 640.3,663.3 636.7,668.3 C633.1,673.3 631.1,675.2 628.3,679.4 C625.6,683.7 625.2,687.7 622.8,689.4 C620.4,691.2 618.8,690.0 616.4,688.1 C614.0,686.1 613.1,683.3 610.8,679.7 C608.6,676.1 605.7,673.5 605.0,670.0 C604.3,666.5 605.2,666.5 607.5,662.1 C609.8,657.6 612.1,653.8 616.7,647.8 C621.2,641.8 624.7,638.9 630.3,632.2 C635.8,625.6 638.8,621.9 644.4,614.4 C650.1,607.0 653.4,601.5 658.6,595.0 C663.8,588.5 665.9,585.7 670.3,581.9 C674.6,578.2 676.9,576.6 680.3,576.4Z" fill="#141414" />
<path d="M676.8,580.8 C672.9,585.6 670.6,588.1 662.2,598.9 C653.9,609.6 655.6,607.8 645.6,621.1 C635.6,634.4 633.2,636.3 624.7,648.9 C616.3,661.5 617.1,660.9 613.9,668.3 C610.6,675.7 612.9,674.4 612.5,676.7" stroke="#2e2e2e" stroke-width="2.2" fill="none"/>
<path d="M673.3,580.8 C669.6,585.5 667.6,587.6 659.4,598.2 C651.3,608.8 652.7,607.2 642.8,620.4 C632.9,633.6 630.7,635.2 622.2,647.8 C613.8,660.4 614.5,661.0 611.1,667.6 C607.7,674.2 609.9,671.2 609.4,672.5" stroke="#050505" stroke-width="2" fill="none"/>
<path d="M604.4,762.2 L618.9,750.7 L637.0,734.5 L656.7,717.8 L676.0,701.0 L696.7,684.4 L710.0,674.0 L723.3,664.4 L737.0,655.5 L750.0,647.8 L761.0,642.3 L772.2,637.8 L779.0,636.0 L785.6,635.1 L790.5,635.8 L794.4,637.8 L796.8,641.5 L797.8,646.7 L797.3,653.0 L795.6,660.0 L790.0,669.0 L780.0,688.0 L760.0,715.0 L700.0,765.0 L640.0,806.0 L626.7,815.0 L606.7,828.9 Z M619.5,812.9 L640.0,796.0 L700.0,752.0 L750.0,712.0 L772.0,690.0 L781.5,673.0 L785.0,664.6 L786.2,659.0 L785.5,653.3 L782.2,649.5 L778.9,647.4 L773.5,647.0 L767.8,648.2 L759.0,651.2 L750.0,655.4 L737.0,663.0 L723.3,671.9 L710.0,681.4 L696.7,691.9 L676.0,708.6 L656.7,725.3 L637.0,743.0 L617.5,762.5 Z" fill="#1e1e1e" fill-rule="evenodd"/>
<ellipse cx="612.3" cy="767.7" rx="3.4" ry="1.2" fill="#fff" transform="rotate(-32 612.3 767.7)"/>
<ellipse cx="612.9" cy="811.0" rx="3.4" ry="1.2" fill="#fff" transform="rotate(-32 612.9 811.0)"/>
<ellipse cx="780.7" cy="641.6" rx="3.4" ry="1.2" fill="#fff" transform="rotate(-32 780.7 641.6)"/>
<path d="M627.3,791.7 L641.7,780.9 C646.6,776.0 646.7,773.7 660.0,762.4 C673.3,751.1 674.7,752.1 691.5,738.7 C708.3,725.3 706.2,725.4 723.0,712.0 C739.8,698.6 739.8,698.8 754.5,688.3 C769.2,677.8 766.8,678.9 778.1,672.6 C789.4,666.3 788.2,667.2 797.0,664.7 C805.8,662.2 804.9,662.7 811.2,663.1 C817.5,663.5 817.7,663.8 820.6,666.3 C823.5,668.8 823.0,668.0 822.2,672.6 C821.4,677.2 820.4,678.6 817.5,683.6 C814.6,688.6 814.1,685.2 811.2,691.5 C808.3,697.8 810.3,698.0 806.5,707.2 C802.7,716.4 803.3,715.0 797.0,726.1 C790.7,737.2 789.1,740.0 782.8,749.0 C776.5,758.0 778.6,754.0 773.3,760.0 C768.0,766.0 768.9,765.2 763.0,771.5 C757.1,777.8 758.5,776.8 751.0,783.5 C743.5,790.2 744.9,789.3 735.0,796.5 C725.1,803.7 723.5,804.3 714.0,810.5 C704.5,816.7 707.3,814.8 699.4,819.8 C691.5,824.8 692.2,824.3 684.4,829.3 C676.6,834.3 677.0,833.9 670.0,838.5 C663.0,843.1 663.1,843.9 658.0,846.5 C652.9,849.1 654.0,848.7 651.0,848.2 C648.0,847.7 647.8,845.6 646.6,844.7 L627.3,857.3 Z" fill="url(#glid)" />
<path d="M806.5,707.2 C804.0,712.2 803.3,715.0 797.0,726.1 C790.7,737.2 789.1,740.0 782.8,749.0 C776.5,758.0 778.6,754.0 773.3,760.0 C768.0,766.0 768.9,765.2 763.0,771.5 C757.1,777.8 758.5,776.8 751.0,783.5 C743.5,790.2 744.9,789.3 735.0,796.5 C725.1,803.7 723.5,804.3 714.0,810.5 C704.5,816.7 707.3,814.8 699.4,819.8 C691.5,824.8 692.2,824.3 684.4,829.3 C676.6,834.3 677.0,833.9 670.0,838.5 C663.0,843.1 663.1,843.9 658.0,846.5 C652.9,849.1 652.9,847.7 651.0,848.2" stroke="#3c3c3c" stroke-width="1.6" fill="none" opacity="0.8"/>
<path d="M627.3,791.7 L641.7,780.9 L646.6,844.7 L627.3,857.3Z" fill="#4e4e4e" />
<path d="M640.0,785 L641.4,846.5" stroke="#2e2e2e" stroke-width="1" fill="none"/>
<path d="M627.8,792 L627.8,857" stroke="#333" stroke-width="1" fill="none"/>
<ellipse cx="634.5" cy="797.5" rx="2" ry="0.8" fill="#2a2a2a" transform="rotate(-35 634.5 797.5)"/>
<ellipse cx="634.5" cy="840.0" rx="2" ry="0.8" fill="#2a2a2a" transform="rotate(-35 634.5 840.0)"/>
<path d="M641.7,780.9 L660.0,762.4 L691.5,738.7 L723.0,712.0 L754.5,688.3 L778.1,672.6 L793.0,666.0 L801.7,678.9 L808.0,686.8 L796.0,693.0 L772.0,706.0 L753.0,718.5 L737.4,731.5 L719.6,748.5 L697.4,770.0 L676.0,789.0 L662.0,800.0 L655.0,808.0 L651.0,820.0 L648.4,845.9Z" fill="url(#gslope)" />
<path d="M641.7,780.9 L660.0,762.4 L691.5,738.7 L723.0,712.0 L754.5,688.3 L778.1,672.6 L793.0,666.0 L801.7,678.9 L808.0,686.8 L796.0,693.0 L772.0,706.0 L753.0,718.5 L737.4,731.5 L719.6,748.5 L697.4,770.0 L676.0,789.0 L662.0,800.0 L655.0,808.0 L651.0,820.0 L648.4,845.9Z" fill="url(#cff)" opacity="1.00" />
<g clip-path="url(#clipslope)">
<path d="M676.0,776.0 C685.3,768.3 685.3,768.3 704.0,753.0 C722.7,737.7 715.3,743.3 732.0,730.0 C748.7,716.7 746.7,718.7 754.0,713.0" stroke="#9a9a9a" stroke-width="2.6" fill="none" opacity="0.45" filter="url(#blur1)"/>
<path d="M745.0,700.0 C753.3,694.7 754.3,692.3 770.0,684.0 C785.7,675.7 784.7,678.0 792.0,675.0" stroke="#888" stroke-width="2" fill="none" opacity="0.35" filter="url(#blur1)"/>
</g>
<path d="M793.0,666.0 C792.1,663.2 793.4,665.3 797.0,664.7 C800.6,664.1 806.5,662.8 811.2,663.1 C815.9,663.4 818.4,664.4 820.6,666.3 C822.8,668.2 822.8,669.1 822.2,672.6 C821.6,676.1 819.7,679.8 817.5,683.6 C815.3,687.4 813.1,690.9 811.2,691.5 C809.3,692.1 809.9,689.3 808.0,686.8 C806.1,684.3 804.7,683.1 801.7,678.9 C798.7,674.7 793.9,668.8 793.0,666.0Z" fill="#585858" />
<ellipse cx="806.5" cy="669.3" rx="2.4" ry="0.8" fill="#262626" transform="rotate(-30 806.5 669.3)"/>
<g transform="translate(844.0,713.9) rotate(-44)"><rect x="-1.7" y="-13.0" width="3.4" height="13.0" rx="0.6" fill="#1f1f1f"/><path d="M-4.4,0.6 L-1.8,-2.2 L1.8,-2.2 L4.4,0.6 L3.9,1.5 L-3.9,1.5 Z" fill="#1f1f1f"/></g>
<g transform="translate(821.5,767.6) rotate(-40)"><rect x="-1.7" y="-13.0" width="3.4" height="13.0" rx="0.6" fill="#1f1f1f"/><path d="M-4.4,0.6 L-1.8,-2.2 L1.8,-2.2 L4.4,0.6 L3.9,1.5 L-3.9,1.5 Z" fill="#1f1f1f"/></g>
<g transform="translate(734.7,844.7) rotate(-37)"><rect x="-1.7" y="-13.0" width="3.4" height="13.0" rx="0.6" fill="#1f1f1f"/><path d="M-4.4,0.6 L-1.8,-2.2 L1.8,-2.2 L4.4,0.6 L3.9,1.5 L-3.9,1.5 Z" fill="#1f1f1f"/></g>
<g transform="translate(666.7,883.1) rotate(-37)"><rect x="-1.7" y="-13.0" width="3.4" height="13.0" rx="0.6" fill="#1f1f1f"/><path d="M-4.4,0.6 L-1.8,-2.2 L1.8,-2.2 L4.4,0.6 L3.9,1.5 L-3.9,1.5 Z" fill="#1f1f1f"/></g>
<g transform="translate(775.7,712.8) rotate(-40)"><rect x="-1.7" y="-1" width="3.4" height="8.5" fill="#222"/><rect x="-4.4" y="-2.6" width="8.8" height="2.4" rx="0.6" fill="#1c1c1c"/></g>
<g transform="translate(690.7,788.3) rotate(-40)"><rect x="-1.7" y="-1" width="3.4" height="8.5" fill="#222"/><rect x="-4.4" y="-2.6" width="8.8" height="2.4" rx="0.6" fill="#1c1c1c"/></g>
<g transform="translate(650.5,816.5) rotate(-48)"><rect x="-1.5" y="-7" width="3" height="12" fill="#6a6a6a" stroke="#222" stroke-width="0.7"/><path d="M-3.6,5 L3.6,5 L0,8 Z" fill="#333"/></g>
</svg>
</body></html>
